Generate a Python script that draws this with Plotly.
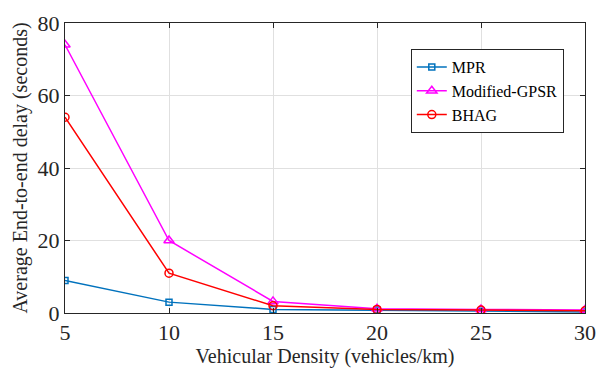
import plotly.graph_objects as go

density = [5, 10, 15, 20, 25, 30]
mpr = [9, 3, 1, 0.8, 0.5, 0.3]
gpsr = [74, 20, 3.2, 1.2, 1.0, 0.8]
bhag = [54, 11, 2, 1.0, 0.8, 0.6]

fig = go.Figure()
fig.add_trace(go.Scatter(x=density, y=mpr, name="MPR", mode="lines+markers",
                         line=dict(color="#0072BD", width=1.5),
                         marker=dict(symbol="square-open", size=6, color="#0072BD", line=dict(width=1.5))))
fig.add_trace(go.Scatter(x=density, y=gpsr, name="Modified-GPSR", mode="lines+markers",
                         line=dict(color="#FF00FF", width=1.5),
                         marker=dict(symbol="triangle-up-open", size=9, color="#FF00FF", line=dict(width=1.5))))
fig.add_trace(go.Scatter(x=density, y=bhag, name="BHAG", mode="lines+markers",
                         line=dict(color="#FF0000", width=1.5),
                         marker=dict(symbol="circle-open", size=8, color="#FF0000", line=dict(width=1.5))))

font = "Times New Roman, Liberation Serif, serif"
axis_common = dict(showgrid=True, gridcolor="#E0E0E0", gridwidth=1,
                   showline=True, linecolor="#262626", linewidth=1, mirror="ticks",
                   ticks="inside", ticklen=5, tickcolor="#262626", zeroline=False,
                   automargin=False,
                   tickfont=dict(family=font, size=22, color="#262626"))
fig.update_layout(
    width=598, height=364,
    margin=dict(l=57, r=21, t=15, b=59),
    paper_bgcolor="white", plot_bgcolor="white",
    font=dict(family=font, color="#262626"),
    xaxis=dict(range=[5, 30], tickvals=[5, 10, 15, 20, 25, 30],
               title=dict(text="Vehicular Density (vehicles/km)", font=dict(family=font, size=20), standoff=2),
               **axis_common),
    yaxis=dict(range=[0, 80], tickvals=[0, 20, 40, 60, 80],
               title=dict(text="Average End-to-end delay (seconds)", font=dict(family=font, size=20), standoff=4),
               **axis_common),
    legend=dict(x=0.665, y=0.91, xanchor="left", yanchor="top",
                bgcolor="white", bordercolor="#262626", borderwidth=1,
                font=dict(family=font, size=16, color="black"), tracegroupgap=0, itemwidth=30),
    showlegend=True,
)
fig.write_html("out.html")
